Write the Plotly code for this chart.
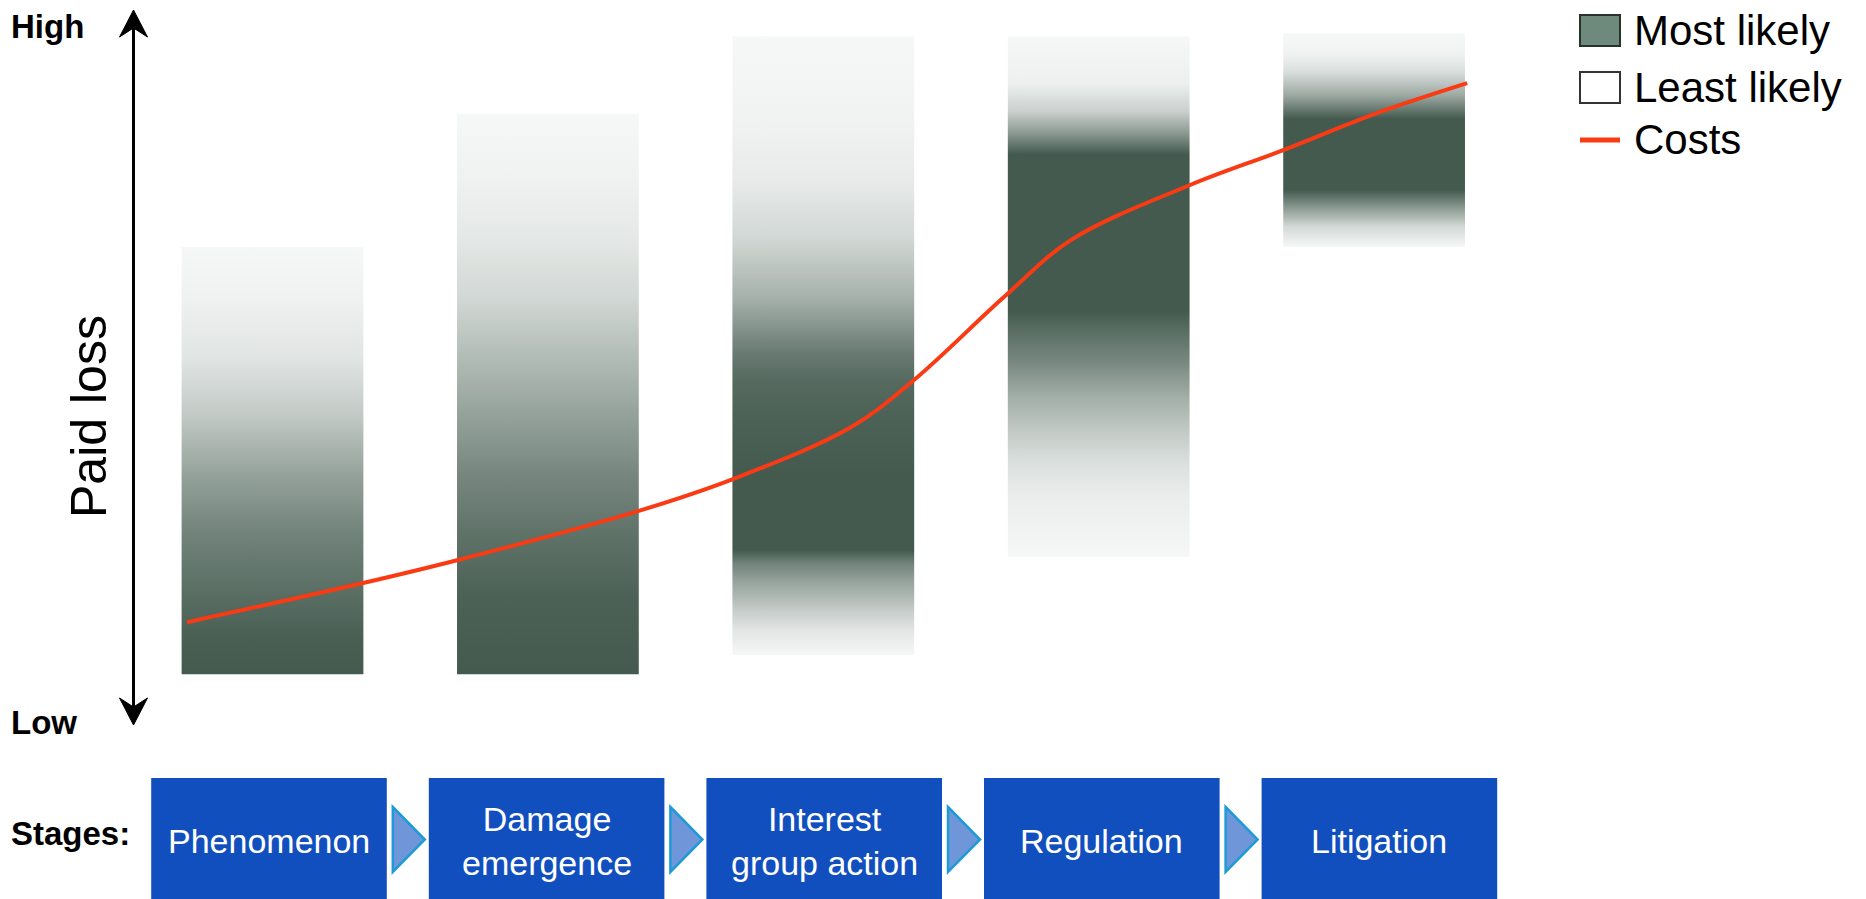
import plotly.graph_objects as go

W, H = 1866, 899

# ---------------- data ----------------
stage_labels = ["Phenomenon", "Damage<br>emergence", "Interest<br>group action", "Regulation", "Litigation"]

# paid-loss scale: 0 = Low, 100 = High
# likelihood profile of paid loss per stage (level -> relative likelihood, 1 = most likely, 0 = least likely)
likelihood_levels = [
    [7.0, 12.0, 18.0, 26.5, 34.8, 43.2, 51.5, 60.0, 67.0],
    [7.0, 18.1, 26.5, 34.8, 43.2, 51.5, 59.9, 68.3, 76.6, 85.7],
    [9.7, 10.8, 13.2, 15.6, 17.8, 20.2, 22.6, 24.4, 34.8, 43.2, 48.3, 52.0, 55.3, 59.9, 68.3, 76.6, 85.0, 96.6],
    [23.5, 27.2, 31.9, 36.6, 41.3, 45.9, 50.7, 55.3, 58.0, 80.0, 83.0, 86.0, 90.0, 96.6],
    [67.0, 69.9, 72.5, 75.0, 85.0, 88.3, 91.7, 94.0, 97.0],
]
likelihood_values = [
    [1.0, 0.97, 0.88, 0.75, 0.55, 0.30, 0.12, 0.04, 0.0],
    [1.0, 0.95, 0.85, 0.72, 0.55, 0.38, 0.20, 0.10, 0.04, 0.0],
    [0.0, 0.04, 0.12, 0.25, 0.40, 0.55, 0.75, 1.0, 1.0, 0.95, 0.90, 0.80, 0.65, 0.45, 0.20, 0.08, 0.03, 0.0],
    [0.0, 0.03, 0.07, 0.15, 0.30, 0.47, 0.70, 0.88, 1.0, 1.0, 0.60, 0.25, 0.05, 0.0],
    [0.0, 0.20, 0.60, 1.0, 1.0, 0.50, 0.15, 0.04, 0.0],
]

cost_x = [-0.310, 0.329, 0.670, 1.327, 1.672, 2.097, 2.326, 2.660, 2.900, 3.332, 3.670, 4.003, 4.338]
cost_y = [14.3, 19.8, 23.0, 29.9, 34.4, 41.6, 48.2, 60.1, 68.0, 75.7, 80.6, 85.7, 90.0]

legend_labels = ["Most likely", "Least likely", "Costs"]

# ---------------- style ----------------
FONT = "Liberation Sans, Arial, Helvetica, sans-serif"
DARK = (68, 90, 79)
EDGE = (246, 248, 247)
RED = "#FA3A12"
BOX = "#124FBE"
TRI_FILL = "#6F96D8"
TRI_LINE = "#1E9BD7"
BAR_HALF = 0.33
# stage-box row geometry (pixels)
BOX_C0, BOX_STEP, BOX_HALF = 269.0, 277.6, 117.8
X0_PX, X_STEP = 272.5, 275.4


def mix(c0, c1, t):
    t = max(0.0, min(1.0, t))
    r, g, b = (round(a + (bb - a) * t) for a, bb in zip(c0, c1))
    return f"rgb({r},{g},{b})"


def px(x, y):
    return x / W, 1 - y / H


def xdata(p):
    return (p - X0_PX) / X_STEP


fig = go.Figure()

# gradient bars
for i in range(len(stage_labels)):
    lv, vals = likelihood_levels[i], likelihood_values[i]
    lo, hi = lv[0], lv[-1]
    stops = [[(l - lo) / (hi - lo), mix(EDGE, DARK, v)] for l, v in zip(lv, vals)]
    stops[0][0], stops[-1][0] = 0.0, 1.0
    x0, x1 = i - BAR_HALF, i + BAR_HALF
    fig.add_trace(go.Scatter(
        x=[x0, x1, x1, x0, x0], y=[lo, lo, hi, hi, lo],
        mode="lines", line=dict(width=0), fill="toself",
        fillgradient=dict(type="vertical", colorscale=stops, start=lo, stop=hi),
        hoverinfo="skip", showlegend=False,
    ))

# cost curve
fig.add_trace(go.Scatter(
    x=cost_x, y=cost_y, mode="lines",
    line=dict(color=RED, width=4, shape="spline", smoothing=1.0),
    hoverinfo="skip", showlegend=False,
))

shapes = []
annotations = []

# stage boxes, connectors and labels
for i, lab in enumerate(stage_labels):
    c = BOX_C0 + BOX_STEP * i
    shapes.append(dict(type="rect", xref="x", yref="paper",
                       x0=xdata(c - BOX_HALF), x1=xdata(c + BOX_HALF), y0=-0.01, y1=1 - 778 / H,
                       fillcolor=BOX, line=dict(width=0), layer="above"))
    annotations.append(dict(xref="x", yref="paper", x=xdata(c), y=1 - 841 / H, text=lab,
                            showarrow=False, xanchor="center", yanchor="middle",
                            font=dict(family=FONT, size=34, color="white")))
    if i < len(stage_labels) - 1:
        xa, xb = xdata(c + BOX_HALF + 6), xdata(c + BOX_HALF + 38)
        ya, yb, ym = 1 - 807 / H, 1 - 872 / H, 1 - 839.5 / H
        shapes.append(dict(type="path", xref="x", yref="paper",
                           path=f"M {xa},{ya} L {xb},{ym} L {xa},{yb} Z",
                           fillcolor=TRI_FILL, line=dict(color=TRI_LINE, width=2.5)))

# vertical axis arrow
ax_x = 133.5
shapes.append(dict(type="line", xref="paper", yref="paper",
                   x0=ax_x / W, x1=ax_x / W, y0=1 - 712 / H, y1=1 - 22 / H,
                   line=dict(color="black", width=3)))
for tip, wing, notch in [(10, 37, 28), (725, 698, 707)]:
    p = [px(ax_x, tip), px(ax_x - 14, wing), px(ax_x, notch), px(ax_x + 14, wing)]
    path = "M " + " L ".join(f"{a},{b}" for a, b in p) + " Z"
    shapes.append(dict(type="path", xref="paper", yref="paper", path=path,
                       fillcolor="black", line=dict(color="black", width=1)))

# axis texts
for txt, (x, y) in [("High", (9, 26)), ("Low", (9, 722)), ("Stages:", (9, 833))]:
    annotations.append(dict(xref="paper", yref="paper", x=x / W, y=1 - y / H, text=f"<b>{txt}</b>",
                            showarrow=False, xanchor="left", yanchor="middle",
                            font=dict(family=FONT, size=33, color="black")))
annotations.append(dict(xref="paper", yref="paper", x=89 / W, y=1 - 417 / H, text="Paid loss",
                        textangle=-90, showarrow=False, xanchor="center", yanchor="middle",
                        font=dict(family=FONT, size=50, color="black")))

# legend
rows = [31, 87, 140]
shapes.append(dict(type="rect", xref="paper", yref="paper",
                   x0=1580 / W, x1=1620 / W, y0=1 - 46 / H, y1=1 - 15 / H,
                   fillcolor="#6E8A7C", line=dict(color="#26322C", width=2)))
shapes.append(dict(type="rect", xref="paper", yref="paper",
                   x0=1580 / W, x1=1620 / W, y0=1 - 103 / H, y1=1 - 72 / H,
                   fillcolor="white", line=dict(color="#333333", width=2)))
shapes.append(dict(type="line", xref="paper", yref="paper",
                   x0=1580 / W, x1=1620 / W, y0=1 - 140 / H, y1=1 - 140 / H,
                   line=dict(color=RED, width=5)))
for lab, ry in zip(legend_labels, rows):
    annotations.append(dict(xref="paper", yref="paper", x=1632 / W, y=1 - ry / H, text=lab,
                            showarrow=False, xanchor="left", yanchor="middle",
                            font=dict(family=FONT, size=42, color="black")))

fig.update_layout(
    width=W, height=H, autosize=False,
    margin=dict(l=0, r=0, t=0, b=0),
    paper_bgcolor="white", plot_bgcolor="white",
    showlegend=False,
    xaxis=dict(domain=[(X0_PX - 0.5 * X_STEP) / W, (X0_PX + 4.5 * X_STEP) / W],
               range=[-0.5, 4.5], visible=False, fixedrange=True),
    yaxis=dict(domain=[1 - 724 / H, 1 - 12 / H], range=[0, 100], visible=False, fixedrange=True),
    shapes=shapes, annotations=annotations,
)

fig.write_html("out.html", config={"displayModeBar": False})
